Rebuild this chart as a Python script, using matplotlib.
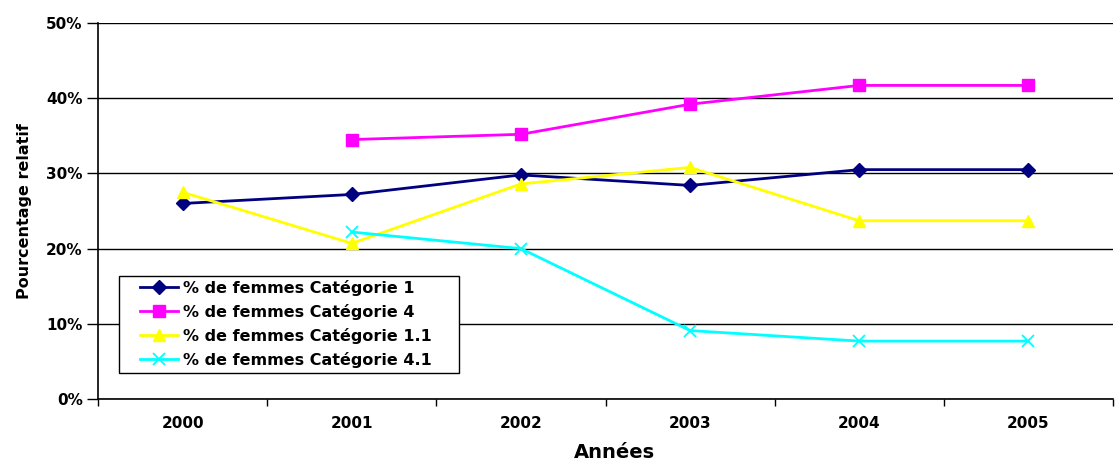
import matplotlib
matplotlib.use("Agg")
import matplotlib.pyplot as plt
from matplotlib.patches import Rectangle
import numpy as np

plt.rcParams['font.family'] = ['DejaVu Sans']

years = ["2000", "2001", "2002", "2003", "2004", "2005"]
cat_1 = [26.0, 27.2, 29.8, 28.4, 30.5, 30.5]
cat_4 = [np.nan, 34.5, 35.2, 39.2, 41.7, 41.7]
cat_1_1 = [27.5, 20.7, 28.6, 30.8, 23.7, 23.7]
cat_4_1 = [np.nan, 22.2, 20.0, 9.1, 7.7, 7.7]
labels = ["% de femmes Catégorie 1", "% de femmes Catégorie 4",
          "% de femmes Catégorie 1.1", "% de femmes Catégorie 4.1"]

W, H = 1115, 461
fig = plt.figure(figsize=(W / 100, H / 100), dpi=100)
ax = fig.add_axes([98 / W, 1 - 399 / H, (1113 - 98) / W, (399 - 23) / H])

x = np.arange(len(years))
ax.plot(x, cat_1, color="#000080", lw=2.0, marker="D", ms=7.5, label=labels[0])
ax.plot(x, cat_4, color="#FF00FF", lw=2.0, marker="s", ms=8.5, label=labels[1])
ax.plot(x, cat_1_1, color="#FFFF00", lw=2.0, marker="^", ms=9, label=labels[2])
ax.plot(x, cat_4_1, color="#00FFFF", lw=2.0, marker="x", ms=8.5, mew=1.3, label=labels[3])

ax.set_xlim(-0.5, len(years) - 0.5)
ax.set_ylim(0, 50)
ax.set_yticks(np.arange(0, 51, 10))
ax.set_yticklabels([f"{v}%" for v in range(0, 51, 10)], fontsize=11, fontweight="bold")
ax.set_xticks(x)
ax.set_xticklabels(years, fontsize=11, fontweight="bold")
ax.tick_params(axis="x", which="major", length=0, pad=12.5)
ax.set_xticks(np.arange(-0.5, len(years)), minor=True)
ax.tick_params(axis="x", which="minor", length=5, width=1, direction="out", color="black")
ax.tick_params(axis="y", length=8, width=1, direction="out", pad=3)

ax.grid(axis="y", color="black", lw=1)
ax.set_axisbelow(True)
for side in ("top", "right"):
    ax.spines[side].set_visible(False)
for side in ("left", "bottom"):
    ax.spines[side].set_color("black")
    ax.spines[side].set_linewidth(1.2)

ax.set_xlabel("Années", fontsize=14, fontweight="bold")
ax.xaxis.set_label_coords(0.509, -0.118)
ax.set_ylabel("Pourcentage relatif", fontsize=11.5, fontweight="bold")
ax.yaxis.set_label_coords(-0.065, 0.5)

# legend box
box = Rectangle((119 / W, 1 - 373 / H), (459 - 119) / W, (373 - 276) / H,
                transform=fig.transFigure, facecolor="white", edgecolor="black",
                lw=1, zorder=4.5, clip_on=False)
ax.add_patch(box)
leg = ax.legend(loc="upper left", bbox_to_anchor=(140 / W, 1 - 280 / H),
                bbox_transform=fig.transFigure, frameon=False,
                prop={"weight": "bold", "size": 11.5}, handlelength=2.4,
                handletextpad=0.3, borderpad=0, labelspacing=0.5, borderaxespad=0)

fig.savefig("out.png", dpi=100)
